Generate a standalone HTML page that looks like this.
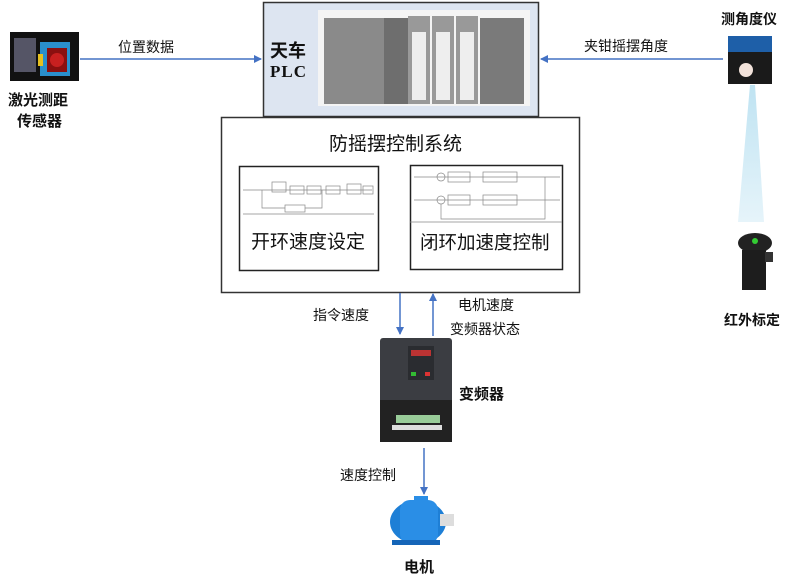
<!DOCTYPE html>
<html><head><meta charset="utf-8"><style>
body{margin:0;width:800px;height:584px;background:#fff;position:relative;overflow:hidden;font-family:"Liberation Sans","Noto Sans CJK SC",sans-serif;}
.t{position:absolute;white-space:nowrap;color:#111;}
.b{font-weight:bold;}
</style></head><body>
<svg width="800" height="584" style="position:absolute;left:0;top:0">
<defs><marker id="a" markerWidth="8" markerHeight="8" refX="7" refY="4" orient="auto" markerUnits="userSpaceOnUse"><path d="M0,0 L8,4 L0,8z" fill="#4472c4"/></marker>
<linearGradient id="bm" x1="0" y1="0" x2="0" y2="1"><stop offset="0" stop-color="#bfe3f2"/><stop offset="1" stop-color="#e6f4fa"/></linearGradient></defs>
<rect x="263.5" y="2.5" width="275" height="114" fill="#dde5f1" stroke="#333" stroke-width="1.5"/>
<rect x="318" y="10" width="212" height="96" fill="#f4f4f4"/>
<rect x="324" y="18" width="60" height="86" fill="#8a8a8a"/>
<rect x="384" y="18" width="24" height="86" fill="#6e6e6e"/>
<rect x="408" y="16" width="22" height="88" fill="#999"/><rect x="412" y="32" width="14" height="68" fill="#eee"/>
<rect x="432" y="16" width="22" height="88" fill="#999"/><rect x="436" y="32" width="14" height="68" fill="#eee"/>
<rect x="456" y="16" width="22" height="88" fill="#999"/><rect x="460" y="32" width="14" height="68" fill="#eee"/>
<rect x="480" y="18" width="44" height="86" fill="#7a7a7a"/>
<rect x="221.5" y="117.5" width="358" height="175" fill="#fff" stroke="#333" stroke-width="1.5"/>
<rect x="239.5" y="166.5" width="139" height="104" fill="#fff" stroke="#222" stroke-width="1.5"/>
<rect x="410.5" y="165.5" width="152" height="104" fill="#fff" stroke="#222" stroke-width="1.5"/>
<g stroke="#888" fill="none" stroke-width="0.7">
<rect x="272" y="182" width="14" height="10"/><rect x="290" y="186" width="14" height="8"/><rect x="307" y="186" width="14" height="8"/><rect x="326" y="186" width="14" height="8"/><rect x="347" y="184" width="14" height="10"/><rect x="363" y="186" width="10" height="8"/><rect x="285" y="205" width="20" height="7"/>
<line x1="243" y1="190" x2="372" y2="190"/><polyline points="262,190 262,208 285,208"/><polyline points="305,208 322,208 322,190"/>
<rect x="448" y="172" width="22" height="10"/><rect x="483" y="172" width="34" height="10"/><rect x="448" y="195" width="22" height="10"/><rect x="483" y="195" width="34" height="10"/>
<circle cx="441" cy="177" r="4"/><circle cx="441" cy="200" r="4"/>
<line x1="414" y1="177" x2="560" y2="177"/><line x1="414" y1="200" x2="560" y2="200"/><polyline points="545,177 545,219 441,219 441,204"/>
<line x1="410" y1="222" x2="562" y2="222"/><line x1="243" y1="214" x2="374" y2="214"/>
</g>
<line x1="80" y1="59" x2="261" y2="59" stroke="#4472c4" stroke-width="1.5" marker-end="url(#a)"/>
<line x1="723" y1="59" x2="541" y2="59" stroke="#4472c4" stroke-width="1.5" marker-end="url(#a)"/>
<line x1="400" y1="293" x2="400" y2="334" stroke="#4472c4" stroke-width="1.5" marker-end="url(#a)"/>
<line x1="433" y1="336" x2="433" y2="294" stroke="#4472c4" stroke-width="1.5" marker-end="url(#a)"/>
<line x1="424" y1="448" x2="424" y2="494" stroke="#4472c4" stroke-width="1.5" marker-end="url(#a)"/>
<rect x="10" y="32" width="69" height="49" fill="#111"/>
<rect x="40" y="42" width="30" height="34" fill="#2a8fcc"/><rect x="47" y="48" width="20" height="24" fill="#8a1010"/><circle cx="57" cy="60" r="7" fill="#c82020"/>
<rect x="38" y="54" width="5" height="12" fill="#e6c020"/><rect x="14" y="38" width="22" height="34" fill="#556"/>
<path d="M750,85 L755,85 L764,222 L738,222z" fill="url(#bm)"/>
<rect x="728" y="36" width="44" height="20" fill="#1e5fa8"/><rect x="728" y="52" width="44" height="32" fill="#1a1a1a"/><circle cx="746" cy="70" r="7" fill="#f2e2da"/>
<ellipse cx="755" cy="243" rx="17" ry="10" fill="#222"/><circle cx="755" cy="241" r="3" fill="#3c3"/>
<rect x="742" y="250" width="24" height="40" fill="#1d1d1d"/><rect x="765" y="252" width="8" height="10" fill="#333"/>
<rect x="380" y="338" width="72" height="104" rx="3" fill="#3b3d42"/>
<rect x="380" y="400" width="72" height="42" fill="#222"/>
<rect x="408" y="346" width="26" height="34" fill="#2a2c30"/><rect x="411" y="350" width="20" height="6" fill="#b33"/>
<rect x="411" y="372" width="5" height="4" fill="#3b3"/><rect x="425" y="372" width="5" height="4" fill="#d33"/>
<rect x="396" y="415" width="44" height="8" fill="#9c9"/><rect x="392" y="425" width="50" height="5" fill="#ddd"/>
<ellipse cx="418" cy="522" rx="28" ry="22" fill="#1e7fd6"/><rect x="400" y="500" width="38" height="44" rx="10" fill="#2a8ee6"/>
<rect x="414" y="496" width="14" height="10" fill="#2a8ee6"/><rect x="440" y="514" width="14" height="12" fill="#ddd"/>
<rect x="392" y="540" width="48" height="5" fill="#1565b8"/>
</svg>
<div class="t b" style="left:270px;top:37px;font-size:18px;">天车</div>
<div class="t b" style="left:270px;top:62px;font-size:17px;font-family:'Liberation Serif',serif;letter-spacing:1px;">PLC</div>
<div class="t" style="left:329px;top:129px;font-size:19px;">防摇摆控制系统</div>
<div class="t" style="left:251px;top:227px;font-size:19px;">开环速度设定</div>
<div class="t" style="left:420px;top:229px;font-size:18.5px;">闭环加速度控制</div>
<div class="t" style="left:118px;top:37px;font-size:14px;">位置数据</div>
<div class="t b" style="left:8px;top:89px;font-size:15px;">激光测距</div>
<div class="t b" style="left:17px;top:110px;font-size:15px;">传感器</div>
<div class="t" style="left:584px;top:36px;font-size:14px;">夹钳摇摆角度</div>
<div class="t b" style="left:721px;top:9px;font-size:14px;">测角度仪</div>
<div class="t b" style="left:724px;top:310px;font-size:14px;">红外标定</div>
<div class="t" style="left:313px;top:305px;font-size:14px;">指令速度</div>
<div class="t" style="left:458px;top:295px;font-size:14px;">电机速度</div>
<div class="t" style="left:450px;top:319px;font-size:14px;">变频器状态</div>
<div class="t b" style="left:459px;top:383px;font-size:15px;">变频器</div>
<div class="t" style="left:340px;top:465px;font-size:14px;">速度控制</div>
<div class="t b" style="left:404px;top:556px;font-size:15px;">电机</div>
</body></html>
